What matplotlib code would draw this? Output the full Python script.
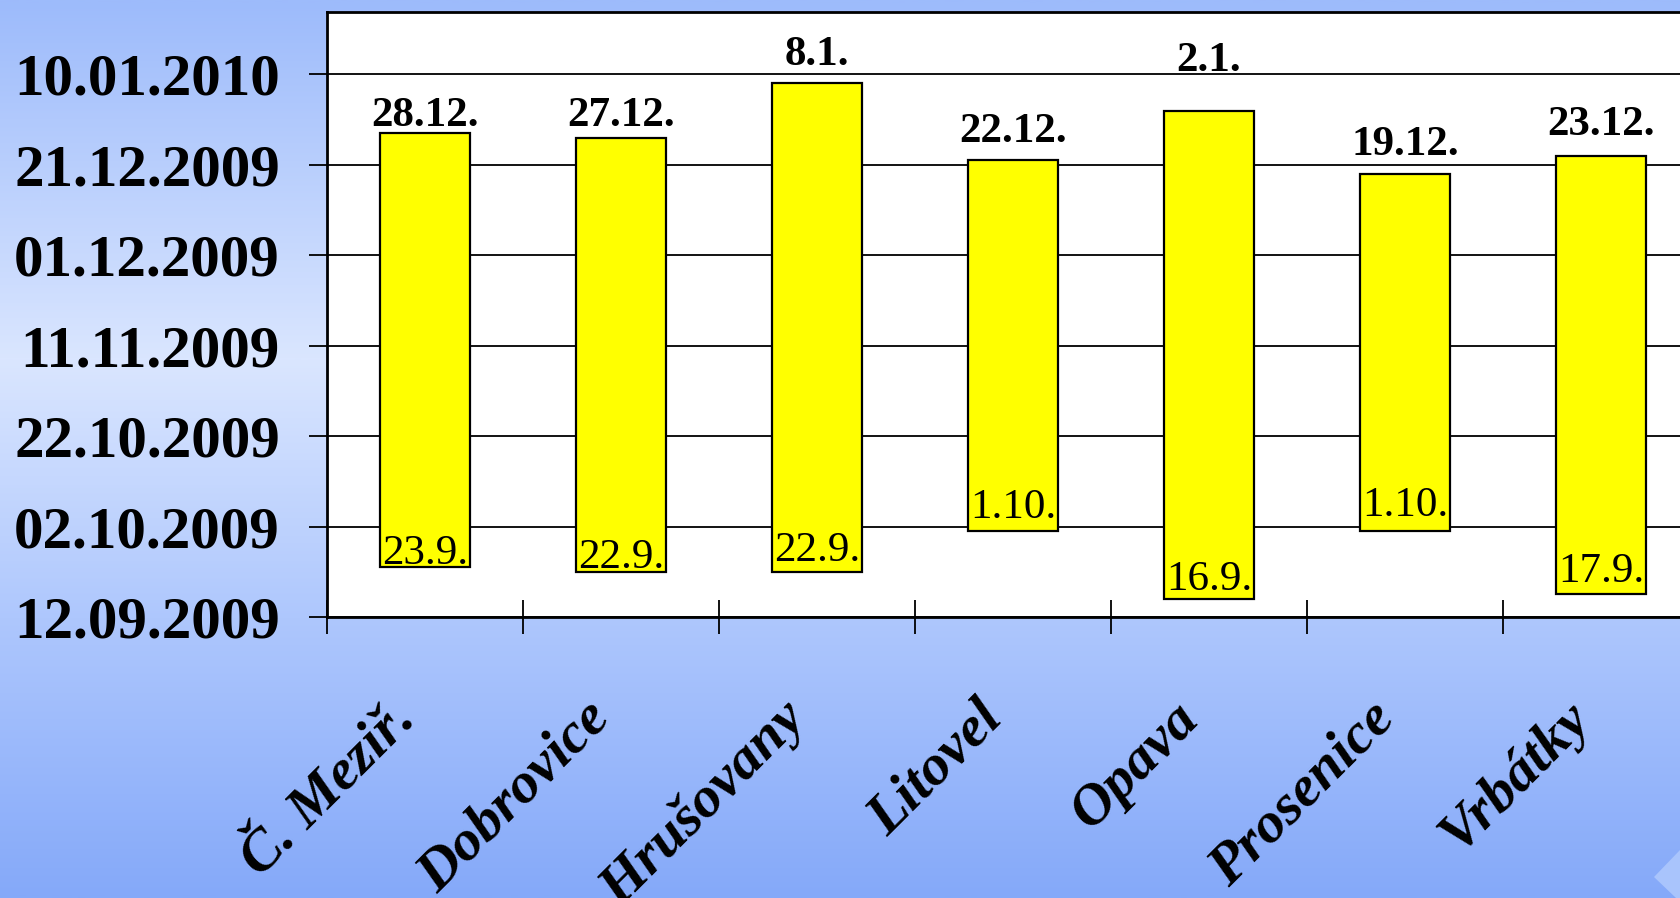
import numpy as np
import matplotlib
matplotlib.use('Agg')
import matplotlib.pyplot as plt
import matplotlib.dates as mdates
from matplotlib.colors import LinearSegmentedColormap
from matplotlib.patches import Polygon

# stations and campaign start / end dates
stations = ['Č. Meziř.', 'Dobrovice', 'Hrušovany', 'Litovel', 'Opava', 'Prosenice', 'Vrbátky']
starts = ['2009-09-23', '2009-09-22', '2009-09-22', '2009-10-01', '2009-09-16', '2009-10-01', '2009-09-17']
ends = ['2009-12-28', '2009-12-27', '2010-01-08', '2009-12-22', '2010-01-02', '2009-12-19', '2009-12-23']
start_labels = ['23.9.', '22.9.', '22.9.', '1.10.', '16.9.', '1.10.', '17.9.']
end_labels = ['28.12.', '27.12.', '8.1.', '22.12.', '2.1.', '19.12.', '23.12.']
ytick_dates = ['2009-09-12', '2009-10-02', '2009-10-22', '2009-11-11',
               '2009-12-01', '2009-12-21', '2010-01-10']

# label nudges (pixels) - the original had them hand placed
top_gap = [7, 12, 18, 18, 40, 19, 21]
bottom_gap = [3, 4, 11, 13, 9, 15, 12]

SERIF = ['Liberation Serif', 'Times New Roman', 'DejaVu Serif']
plt.rcParams['font.family'] = SERIF

W, H, DPI = 1680, 898, 100
fig = plt.figure(figsize=(W / DPI, H / DPI), dpi=DPI)

# background gradient
bg = fig.add_axes([0, 0, 1, 1], zorder=-10)
bg_cmap = LinearSegmentedColormap.from_list('bg', [
    (0.0, '#9dbbfb'), (0.40, '#dae6ff'), (0.69, '#aec7fd'), (1.0, '#85a9f9')])
grad = np.linspace(0, 1, 400).reshape(-1, 1)
bg.imshow(grad, cmap=bg_cmap, aspect='auto', extent=[0, 1, 0, 1], origin='upper')
bg.add_patch(Polygon([(1654 / W, 1 - 877 / H), (1680 / W, 1 - 850 / H),
                      (1680 / W, 0), (1676 / W, 0)],
                     closed=True, facecolor='#a9c4fc', edgecolor='none'))
bg.set_xlim(0, 1)
bg.set_ylim(0, 1)
bg.axis('off')

left, bottom, top = 327 / W, 1 - 617 / H, 1 - 12 / H
ax = fig.add_axes([left, bottom, 7 * 196 / W, top - bottom])
ax.set_facecolor('white')

x = np.arange(len(stations))
s = mdates.datestr2num(starts)
e = mdates.datestr2num(ends)
ax.bar(x, e - s, bottom=s, width=0.46, color='#ffff00', edgecolor='black',
       linewidth=1.6, zorder=3)

px = 72.0 / DPI
for i in range(len(stations)):
    ax.annotate(end_labels[i], (x[i], e[i]), xytext=(0, top_gap[i] * px),
                textcoords='offset points', ha='center', va='baseline',
                fontsize=31, fontweight='bold', family=SERIF, zorder=4)
    ax.annotate(start_labels[i], (x[i], s[i]), xytext=(0, bottom_gap[i] * px),
                textcoords='offset points', ha='center', va='baseline',
                fontsize=31, family=SERIF, zorder=4)

yt = mdates.datestr2num(ytick_dates)
ax.set_ylim(yt[0], yt[-1] + 13.8)
ax.set_xlim(-0.5, len(stations) - 0.5)
ax.set_yticks(yt)
ax.set_yticklabels([mdates.num2date(v).strftime('%d.%m.%Y') for v in yt],
                   fontsize=42.5, fontweight='bold', family=SERIF)
ax.yaxis.grid(True, color='black', linewidth=1.3, zorder=0)
ax.set_axisbelow(True)
ax.tick_params(axis='y', direction='out', length=13, width=1.3, pad=21)

# ticks between categories, labels at centres
ax.set_xticks([-0.5] + list(x[:-1] + 0.5))
ax.set_xticklabels([])
ax.set_xticks(x, minor=True)
ax.set_xticklabels(stations, minor=True, rotation=45, ha='right', va='top',
                   fontsize=42, fontweight='bold', fontstyle='italic',
                   family=SERIF)
ax.tick_params(axis='x', which='major', direction='inout', length=25, width=1.3)
ax.tick_params(axis='x', which='minor', length=0, pad=54)

for sp in ax.spines.values():
    sp.set_linewidth(2)
    sp.set_color('black')

fig.savefig('out.png', dpi=DPI)
